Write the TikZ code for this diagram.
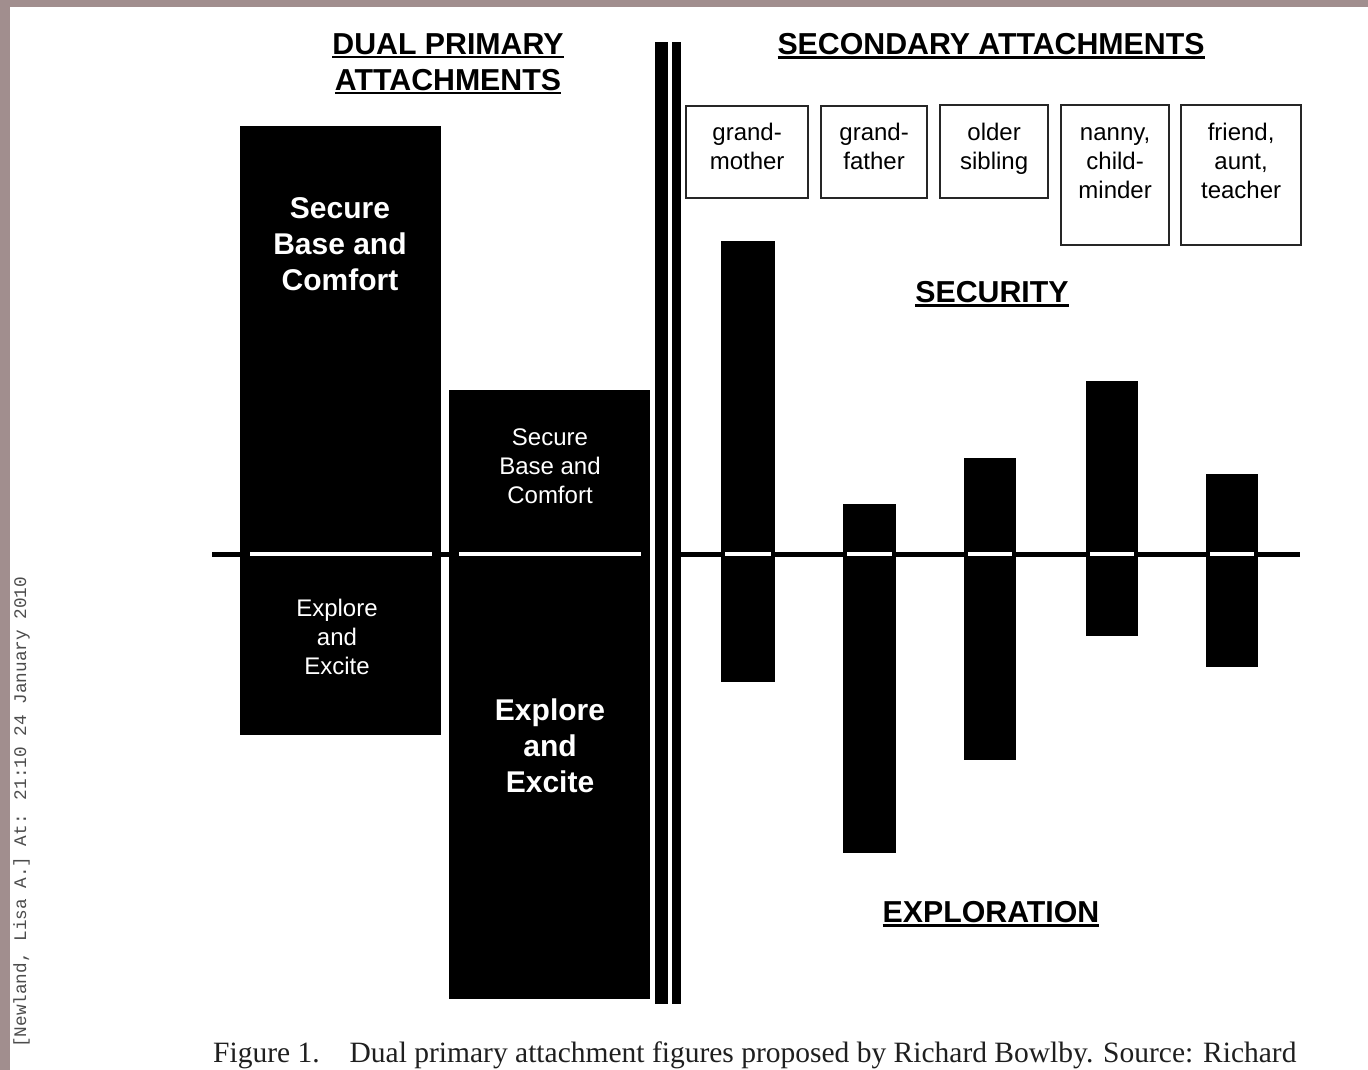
\documentclass[tikz,border=0pt]{standalone}
\usepackage{fontspec}
\setmainfont{Liberation Sans}
\newfontfamily\capfont{Liberation Serif}
\newfontfamily\sidefont{Liberation Mono}
\definecolor{framegray}{HTML}{A18E8E}
\newcommand\hdul[1]{\vtop{\hbox{#1}\kern1.5pt\hrule height 2.6pt}}
\begin{document}
\begin{tikzpicture}[x=1pt,y=-1pt,
  blk/.style={fill=black, draw=none, inner sep=0pt, anchor=north west},
  wdash/.style={white, line width=4pt},
  axisline/.style={black, line width=5pt},
  head/.style={font={\fontsize{30.3}{36}\selectfont\bfseries}, align=center, inner sep=0pt, anchor=north},
  bigtxt/.style={text=white, font={\fontsize{30}{36}\selectfont\bfseries}, align=center, inner sep=0pt},
  smalltxt/.style={text=white, font={\fontsize{24}{29}\selectfont}, align=center, inner sep=0pt},
  secbox/.style={draw=black!85, line width=2.2pt, fill=white, inner sep=0pt, anchor=north west},
  seclbl/.style={text=black, font={\fontsize{24}{29}\selectfont}, align=center, inner sep=0pt, anchor=north}
]
\useasboundingbox (0,0) rectangle (1368,1070);
\fill[white] (0,0) rectangle (1368,1070);
\fill[framegray] (0,0) rectangle (1368,7);
\fill[framegray] (0,0) rectangle (10,1070);

% headings
\node[head] (hdual) at (448,33) {\hdul{DUAL PRIMARY}\\\hdul{ATTACHMENTS}};
\node[head] (hsec) at (991,33) {\hdul{SECONDARY ATTACHMENTS}};
\node[head] (hsecur) at (992,281) {\hdul{SECURITY}};
\node[head] (hexpl) at (991,901) {\hdul{EXPLORATION}};

% primary boxes
\node[blk, minimum width=201pt, minimum height=609pt] (p1) at (240,126) {};
\node[blk, minimum width=201pt, minimum height=609pt] (p2) at (449,390) {};
\node[bigtxt] (p1a) at (340,244) {Secure\\Base and\\Comfort};
\node[smalltxt] (p1b) at (337,637) {Explore\\and\\Excite};
\node[smalltxt] (p2a) at (550,466) {Secure\\Base and\\Comfort};
\node[bigtxt] (p2b) at (550,746) {Explore\\and\\Excite};

% double divider
\node[blk, minimum width=13pt, minimum height=962pt] (b1) at (655,42) {};
\node[blk, minimum width=9pt, minimum height=962pt] (b2) at (672,42) {};

% secondary boxes
\node[secbox, minimum width=122pt, minimum height=92pt] (sb1) at (685,105) {};
\node[secbox, minimum width=106pt, minimum height=92pt] (sb2) at (820,105) {};
\node[secbox, minimum width=108pt, minimum height=93pt] (sb3) at (939,104) {};
\node[secbox, minimum width=108pt, minimum height=140pt] (sb4) at (1060,104) {};
\node[secbox, minimum width=120pt, minimum height=140pt] (sb5) at (1180,104) {};
\node[seclbl] (l1) at ([yshift=-15pt]sb1.north) {\strut grand-\\mother};
\node[seclbl] (l2) at ([yshift=-15pt]sb2.north) {\strut grand-\\father};
\node[seclbl] (l3) at ([yshift=-16pt]sb3.north) {\strut older\\sibling};
\node[seclbl] (l4) at ([yshift=-16pt]sb4.north) {\strut nanny,\\child-\\minder};
\node[seclbl] (l5) at ([yshift=-16pt]sb5.north) {\strut friend,\\aunt,\\teacher};

% secondary bars
\node[blk, minimum width=54pt, minimum height=441pt] (s1) at (721,241) {};
\node[blk, minimum width=53pt, minimum height=349pt] (s2) at (843,504) {};
\node[blk, minimum width=52pt, minimum height=302pt] (s3) at (964,458) {};
\node[blk, minimum width=52pt, minimum height=255pt] (s4) at (1086,381) {};
\node[blk, minimum width=52pt, minimum height=193pt] (s5) at (1206,474) {};

% axis
\coordinate (axL) at (212,554);
\coordinate (axR) at (1300,554);
\draw[axisline] (axL) -- (p1.west |- axL);
\draw[axisline] (p1.east |- axL) -- (p2.west |- axL);
\draw[axisline] (b2.east |- axR) -- (axR);

% white dashes
\foreach \n in {p1,p2}{
  \draw[wdash] ([xshift=10pt]\n.west |- axL) -- ([xshift=-9pt]\n.east |- axL);
}
\foreach \n in {s1,s2,s3,s4,s5}{
  \draw[wdash] ([xshift=4pt]\n.west |- axR) -- ([xshift=-4pt]\n.east |- axR);
}

% caption
\node[font={\capfont\fontsize{29.5}{34}\selectfont}, text=black!88, anchor=base west, inner sep=0pt] (cap) at (213,1062)
  {Figure 1.\hspace{30pt}Dual primary attachment figures proposed by Richard Bowlby. Source: Richard};
% side stamp
\node[rotate=90, anchor=base west, inner sep=0pt, font={\sidefont\fontsize{17.7}{20}\selectfont}, text=black!70] (side) at (26,1048)
  {[Newland, Lisa A.] At: 21:10 24 January 2010};
\end{tikzpicture}
\end{document}
